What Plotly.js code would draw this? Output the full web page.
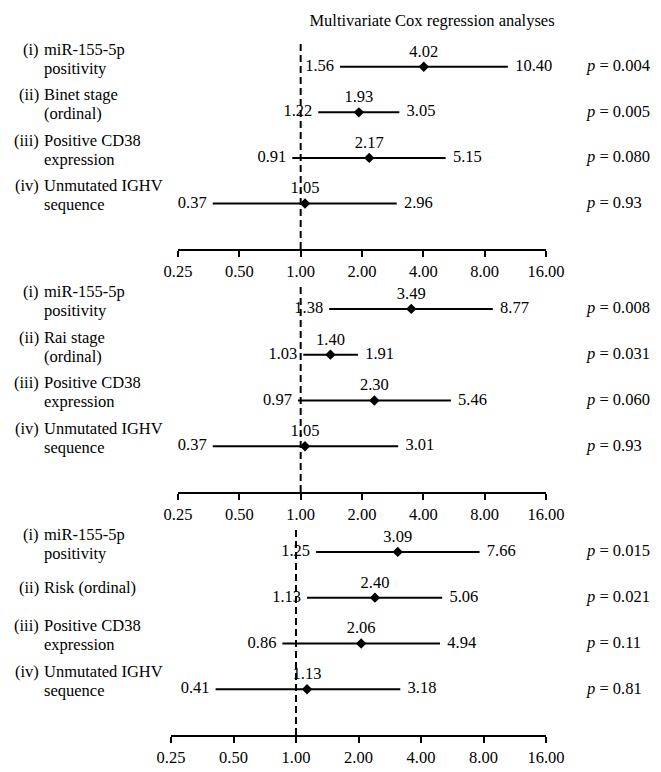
<!DOCTYPE html>
<html><head><meta charset="utf-8">
<script src="https://cdn.plot.ly/plotly-3.0.1.min.js"></script>
<style>html,body{margin:0;padding:0;background:#fff}</style>
</head><body>
<div id="chart" style="width:661px;height:772px"></div>
<script>
// ---------- data ----------
const titleText = "Multivariate Cox regression analyses";
const tickValues = [0.25, 0.5, 1, 2, 4, 8, 16];
const tickLabels = ["0.25", "0.50", "1.00", "2.00", "4.00", "8.00", "16.00"];
const referenceHR = 1;
const prefixes = ["(i)", "(ii)", "(iii)", "(iv)"];

const panel1Line1 = ["miR-155-5p", "Binet stage", "Positive CD38", "Unmutated IGHV"];
const panel1Line2 = ["positivity", "(ordinal)", "expression", "sequence"];
const panel1HR = [4.02, 1.93, 2.17, 1.05];
const panel1Low = [1.56, 1.22, 0.91, 0.37];
const panel1High = [10.40, 3.05, 5.15, 2.96];
const panel1P = ["0.004", "0.005", "0.080", "0.93"];

const panel2Line1 = ["miR-155-5p", "Rai stage", "Positive CD38", "Unmutated IGHV"];
const panel2Line2 = ["positivity", "(ordinal)", "expression", "sequence"];
const panel2HR = [3.49, 1.40, 2.30, 1.05];
const panel2Low = [1.38, 1.03, 0.97, 0.37];
const panel2High = [8.77, 1.91, 5.46, 3.01];
const panel2P = ["0.008", "0.031", "0.060", "0.93"];

const panel3Line1 = ["miR-155-5p", "Risk (ordinal)", "Positive CD38", "Unmutated IGHV"];
const panel3Line2 = ["positivity", "", "expression", "sequence"];
const panel3HR = [3.09, 2.40, 2.06, 1.13];
const panel3Low = [1.25, 1.13, 0.86, 0.41];
const panel3High = [7.66, 5.06, 4.94, 3.18];
const panel3P = ["0.015", "0.021", "0.11", "0.81"];

// ---------- layout geometry (pixels) ----------
const W = 661, H = 772;
const FONT = "Liberation Serif, Times New Roman, serif";
const panels = [
  {line1: panel1Line1, line2: panel1Line2, hr: panel1HR, lo: panel1Low, hi: panel1High, p: panel1P,
   xl: 178, xr: 546, axisY: 249, topY: 44},
  {line1: panel2Line1, line2: panel2Line2, hr: panel2HR, lo: panel2Low, hi: panel2High, p: panel2P,
   xl: 178, xr: 546, axisY: 492, topY: 286},
  {line1: panel3Line1, line2: panel3Line2, hr: panel3HR, lo: panel3Low, hi: panel3High, p: panel3P,
   xl: 171, xr: 546, axisY: 735, topY: 529}
];
const YTOP = 4.5;

const traces = [];
const annotations = [];
const layout = {
  width: W, height: H,
  margin: {l: 0, r: 0, t: 0, b: 0},
  paper_bgcolor: "#fff", plot_bgcolor: "rgba(0,0,0,0)",
  showlegend: false,
  font: {family: FONT, size: 16, color: "#000"},
  title: {text: titleText, x: 432 / W, xanchor: "center", xref: "paper",
          y: 1 - 20 / H, yanchor: "middle", yref: "container",
          font: {family: FONT, size: 16.5, color: "#000"}},
  annotations: annotations
};

panels.forEach((pn, k) => {
  const sfx = k === 0 ? "" : String(k + 1);
  const xa = "x" + sfx, ya = "y" + sfx;
  const n = pn.hr.length;
  const rows = pn.hr.map((_, i) => n - i);

  layout["xaxis" + sfx] = {
    type: "log", range: [Math.log10(tickValues[0]), Math.log10(tickValues[tickValues.length - 1])],
    domain: [pn.xl / W, pn.xr / W], anchor: ya,
    tickmode: "array", tickvals: tickValues, ticktext: tickLabels,
    ticks: "outside", ticklen: 6, tickwidth: 2, tickcolor: "#000",
    showline: true, linewidth: 2, linecolor: "#000",
    showgrid: false, zeroline: false, fixedrange: true,
    tickfont: {family: FONT, size: 16.5, color: "#000"}
  };
  layout["yaxis" + sfx] = {
    range: [0, YTOP], domain: [(H - pn.axisY) / H, (H - pn.topY) / H], anchor: xa,
    showgrid: false, zeroline: false, showline: false, showticklabels: false, ticks: "",
    fixedrange: true
  };

  // dashed reference line at HR = 1
  traces.push({x: [referenceHR, referenceHR], y: [0, YTOP], xaxis: xa, yaxis: ya,
    mode: "lines", line: {color: "#000", width: 2, dash: "7px,4px"}, hoverinfo: "skip"});

  // confidence interval lines
  const cx = [], cy = [];
  pn.lo.forEach((v, i) => { cx.push(v, pn.hi[i], null); cy.push(rows[i], rows[i], null); });
  traces.push({x: cx, y: cy, xaxis: xa, yaxis: ya, mode: "lines",
    line: {color: "#000", width: 2}, hoverinfo: "skip", connectgaps: false});

  // point estimates with labels above
  traces.push({x: pn.hr, y: rows, xaxis: xa, yaxis: ya, mode: "markers+text",
    marker: {symbol: "diamond", size: 8, color: "#000"},
    text: pn.hr.map(v => v.toFixed(2)), textposition: "top center",
    textfont: {family: FONT, size: 16.5, color: "#000"}, cliponaxis: false});

  // lower bound labels
  traces.push({x: pn.lo, y: rows, xaxis: xa, yaxis: ya, mode: "markers+text",
    marker: {size: 8, color: "rgba(0,0,0,0)"},
    text: pn.lo.map(v => v.toFixed(2)), textposition: "middle left",
    textfont: {family: FONT, size: 16.5, color: "#000"}, cliponaxis: false});

  // upper bound labels
  traces.push({x: pn.hi, y: rows, xaxis: xa, yaxis: ya, mode: "markers+text",
    marker: {size: 10, color: "rgba(0,0,0,0)"},
    text: pn.hi.map(v => v.toFixed(2)), textposition: "middle right",
    textfont: {family: FONT, size: 16.5, color: "#000"}, cliponaxis: false});

  // row labels and p-values
  const lblFont = {family: FONT, size: 16.5, color: "#000"};
  rows.forEach((r, i) => {
    const twoLines = pn.line2[i] !== "";
    const shift1 = twoLines ? 17.5 : 10;
    annotations.push({xref: "paper", yref: ya, x: 40 / W, y: r, xanchor: "right", yanchor: "middle",
      yshift: shift1, borderpad: 0, text: prefixes[i], showarrow: false, font: lblFont});
    annotations.push({xref: "paper", yref: ya, x: 43 / W, y: r, xanchor: "left", yanchor: "middle",
      yshift: shift1, borderpad: 0, text: pn.line1[i], showarrow: false, font: lblFont});
    if (twoLines) {
      annotations.push({xref: "paper", yref: ya, x: 43 / W, y: r, xanchor: "left", yanchor: "middle",
        yshift: -1.5, borderpad: 0, text: pn.line2[i], showarrow: false, font: lblFont});
    }
    annotations.push({xref: "paper", yref: ya, x: 585 / W, y: r, xanchor: "left", yanchor: "middle",
      yshift: 1, borderpad: 0, text: "<i>p</i> = " + pn.p[i], showarrow: false, font: lblFont});
  });
});

Plotly.newPlot("chart", traces, layout, {displayModeBar: false, staticPlot: true});
</script>
</body></html>
